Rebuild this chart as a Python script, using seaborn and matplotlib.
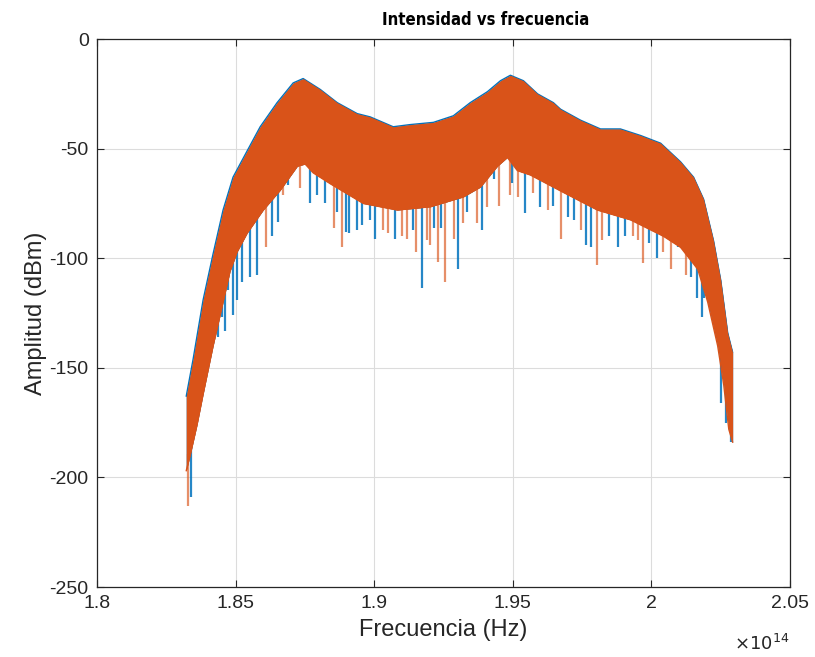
import numpy as np
import pandas as pd
import matplotlib
matplotlib.use("Agg")
import matplotlib.pyplot as plt
import seaborn as sns
from matplotlib.ticker import FixedLocator, FuncFormatter

# ---- data (frequency in units of 1e14 Hz, amplitude in dBm) ----
upper_f = [1.8322, 1.8347, 1.8383, 1.8419, 1.8455, 1.8491, 1.8542, 1.8589, 1.8650, 1.8708,
           1.8744, 1.8806, 1.8867, 1.8939, 1.8986, 1.9069, 1.9131, 1.9214, 1.9286, 1.9347,
           1.9409, 1.9456, 1.9492, 1.9539, 1.9590, 1.9647, 1.9673, 1.9745, 1.9817, 1.9889,
           1.9962, 2.0034, 2.0106, 2.0153, 2.0189, 2.0225, 2.0251, 2.0276, 2.0294]
upper_db = [-163, -146, -119, -98, -78, -63, -51, -40, -29, -20,
            -18, -23, -29, -34, -35.5, -40, -39, -38, -35, -29,
            -24, -19, -16.5, -19, -25, -29, -32, -37, -41, -41,
            -44, -47.5, -56, -63, -73, -92, -110, -134, -143]

lower_f = [1.8322, 1.8336, 1.8361, 1.8383, 1.8419, 1.8455, 1.8480, 1.8506, 1.8542, 1.8600,
           1.8661, 1.8723, 1.8751, 1.8780, 1.8842, 1.8961, 1.9084, 1.9203, 1.9322, 1.9384,
           1.9445, 1.9481, 1.9517, 1.9564, 1.9684, 1.9806, 1.9926, 2.0045, 2.0106, 2.0168,
           2.0204, 2.0240, 2.0262, 2.0280, 2.0294]
lower_db = [-197, -190, -176, -162, -140, -120, -106, -97, -88.5, -78,
            -69, -58, -57, -61, -66, -75, -78, -76.5, -72, -67.5,
            -58, -54, -60, -62, -70, -78, -82.5, -90, -95, -105,
            -120, -140, -158, -178, -184]

# dips below the band: series 1 (blue) and series 2 (orange)
blue_spike_f = [1.8340, 1.8437, 1.8452, 1.8462, 1.8473, 1.8491, 1.8506, 1.8524, 1.8553, 1.8578,
                1.8632, 1.8654, 1.8690, 1.8770, 1.8795, 1.8824, 1.8867, 1.8900, 1.8910, 1.8939,
                1.8957, 1.8986, 1.9004, 1.9077, 1.9142, 1.9174, 1.9217, 1.9243, 1.9304, 1.9337,
                1.9391, 1.9431, 1.9499, 1.9543, 1.9600, 1.9647, 1.9698, 1.9720, 1.9763, 1.9781,
                1.9846, 1.9879, 1.9907, 1.9991, 2.0020, 2.0095, 2.0142, 2.0164, 2.0182, 2.0189,
                2.0251, 2.0269, 2.0287]
blue_spike_db = [-209, -136, -127, -133, -114.5, -126, -119, -111, -108.5, -107.5,
                 -90, -83.5, -66.5, -75, -71, -75, -79, -88, -88.5, -87,
                 -85, -82.5, -91, -91, -87, -113.5, -86, -86, -105, -79,
                 -87, -64, -65.5, -79.5, -76.5, -76, -81, -82.5, -94, -95,
                 -90, -95, -90, -93, -100, -95, -108.5, -118, -127, -118,
                 -166, -175, -184]
orange_spike_f = [1.8329, 1.8419, 1.8611, 1.8672, 1.8733, 1.8856, 1.8885, 1.9033, 1.9051, 1.9102,
                  1.9120, 1.9152, 1.9192, 1.9203, 1.9232, 1.9257, 1.9290, 1.9322, 1.9373, 1.9409,
                  1.9449, 1.9492, 1.9521, 1.9575, 1.9626, 1.9676, 1.9745, 1.9803, 1.9824, 1.9933,
                  1.9951, 1.9969, 2.0041, 2.0070, 2.0124]
orange_spike_db = [-213, -131, -95, -71, -68, -86, -95, -87, -88.5, -90,
                   -91, -97, -91.5, -94, -101.5, -111, -91, -84, -84, -76.5,
                   -76, -71, -72, -70, -78, -91, -87, -103, -91.5, -90,
                   -91.5, -102, -97, -105, -107.5]

x_ticks = [1.8, 1.85, 1.9, 1.95, 2.0, 2.05]
y_ticks = [-250, -200, -150, -100, -50, 0]

SCALE = 1e14
BLUE = "#0072BD"
ORANGE = "#D95319"

sns.set_theme(style="ticks")
plt.rcParams["font.family"] = ["Liberation Sans", "DejaVu Sans"]

fig = plt.figure(figsize=(8.15, 6.57), dpi=100)
ax = fig.add_axes([0.119, 0.1065, 0.850, 0.834])

up = pd.DataFrame({"f": np.array(upper_f) * SCALE, "db": upper_db})
lo = pd.DataFrame({"f": np.array(lower_f) * SCALE, "db": lower_db})

grid_f = np.array(sorted(set(upper_f) | set(lower_f))) * SCALE
up_g = np.interp(grid_f, up["f"], up["db"])
lo_g = np.interp(grid_f, lo["f"], lo["db"])

# series 1 (blue)
ax.fill_between(grid_f, lo_g, up_g, color=BLUE, lw=0, zorder=2)
sns.lineplot(data=up, x="f", y="db", ax=ax, color=BLUE, lw=1.0, zorder=2)
bf = np.array(blue_spike_f) * SCALE
ax.vlines(bf, blue_spike_db, np.interp(bf, lo["f"], lo["db"]) + 4, color=BLUE, lw=1.6,
          alpha=0.85, zorder=2)

# series 2 (orange)
ax.fill_between(grid_f, lo_g, up_g, color=ORANGE, lw=0, zorder=3)
sns.lineplot(data=lo, x="f", y="db", ax=ax, color=ORANGE, lw=1.0, zorder=3)
of = np.array(orange_spike_f) * SCALE
ax.vlines(of, orange_spike_db, np.interp(of, lo["f"], lo["db"]) + 4, color=ORANGE, lw=1.6,
          alpha=0.65, zorder=3)

ax.set_xlim(1.8 * SCALE, 2.05 * SCALE)
ax.set_ylim(-250, 0)
ax.xaxis.set_major_locator(FixedLocator([t * SCALE for t in x_ticks]))
ax.xaxis.set_major_formatter(FuncFormatter(lambda v, p: "%g" % round(v / SCALE, 4)))
ax.set_yticks(y_ticks)
ax.set_yticklabels(["%g" % t for t in y_ticks])

ax.grid(True, color="#dcdcdc", lw=0.8, zorder=0)
ax.set_axisbelow(True)
for s in ax.spines.values():
    s.set_color("#262626")
    s.set_linewidth(0.9)
    s.set_visible(True)
ax.tick_params(direction="in", top=True, right=True, length=5, width=0.8,
               colors="#262626", labelsize=14, pad=6)

ax.set_title("Intensidad vs frecuencia", fontsize=12, fontweight="bold", color="black",
             pad=10, x=0.561, family=["DejaVu Sans"], fontstretch="condensed")
ax.set_xlabel("Frecuencia (Hz)", fontsize=17, color="#262626", labelpad=5)
ax.set_ylabel("Amplitud (dBm)", fontsize=17, color="#262626", labelpad=2)
ax.text(1.0, -0.085, r"$\times10^{14}$", transform=ax.transAxes, ha="right", va="top",
        fontsize=13, color="#262626", family="DejaVu Sans")

fig.savefig("out.png", dpi=100, facecolor="white")
